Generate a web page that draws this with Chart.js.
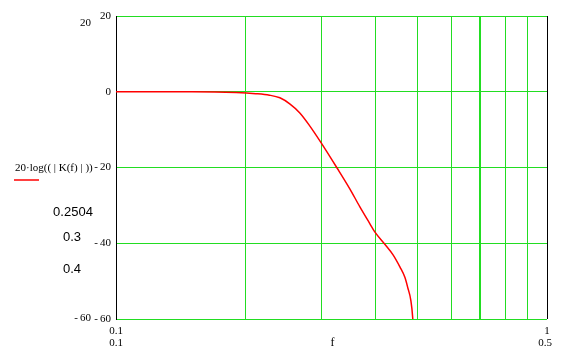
<!DOCTYPE html>
<html>
<head>
<meta charset="utf-8">
<script src="https://cdn.jsdelivr.net/npm/chart.js@4.4.1/dist/chart.umd.min.js"></script>
<style>
  html, body { margin: 0; padding: 0; background: #fff; }
  #wrap { width: 568px; height: 349px; position: relative; }
</style>
</head>
<body>
<div id="wrap"><canvas id="plot"></canvas></div>
<script>
// frequency f and response 20*log(|K(f)|)
const freq = [0.1, 0.15, 0.19, 0.211, 0.227, 0.240, 0.253, 0.267, 0.2815, 0.2985, 0.3252,
              0.349, 0.368, 0.388, 0.3985, 0.420, 0.439, 0.456, 0.468, 0.4755, 0.483, 0.488, 0.490];
const gainDb = [0, 0, -0.2, -0.5, -0.9, -1.6, -3.2, -5.6, -9.0, -13.3, -20.0,
                -25.7, -30.4, -34.8, -37.0, -40.2, -43.0, -46.3, -49.0, -51.8, -55, -59.7, -64];

const xTicks = [0.1, 0.2, 0.3, 0.4, 0.5, 0.6, 0.7, 0.8, 0.9, 1];
const yTicks = [20, 0, -20, -40, -60];
const markerValues = ['0.2504', '0.3', '0.4'];

const GREEN = '#22dd22';
const SERIF = '"Liberation Serif", "Times New Roman", serif';
const SANS = '"Liberation Sans", Arial, sans-serif';

const labelsPlugin = {
    id: 'mathcadLabels',
    afterDraw(chart) {
        const ctx = chart.ctx;
        const area = chart.chartArea;
        const xs = chart.scales.x;
        const ys = chart.scales.y;
        ctx.save();
        ctx.fillStyle = '#000';
        ctx.font = '11px ' + SERIF;
        ctx.textBaseline = 'middle';

        // y tick labels
        ctx.textAlign = 'right';
        yTicks.forEach(v => {
            ctx.fillText(String(v).replace('-', '-\u2009'), area.left - 5, ys.getPixelForValue(v));
        });
        // y axis limits
        ctx.fillText('20', 91, 23);
        ctx.fillText('-\u200960', 91, 318);

        // x axis limits
        ctx.textAlign = 'center';
        ctx.fillText('0.1', xs.getPixelForValue(0.1), 331);
        ctx.fillText('0.1', xs.getPixelForValue(0.1), 343);
        ctx.fillText('1', xs.getPixelForValue(1), 331);
        ctx.fillText('0.5', xs.getPixelForValue(1) - 2, 343);
        ctx.font = '12px ' + SERIF;
        ctx.fillText('f', (area.left + area.right) / 2 + 1, 343);

        // trace legend
        ctx.textAlign = 'left';
        ctx.font = '11px ' + SERIF;
        ctx.fillText('20\u00b7log(( | K(f) | ))', 15, 168);
        ctx.strokeStyle = '#ff0000';
        ctx.lineWidth = 1.5;
        ctx.beginPath();
        ctx.moveTo(14, 180);
        ctx.lineTo(39, 180);
        ctx.stroke();

        // marker values
        ctx.textAlign = 'center';
        ctx.font = '13px ' + SANS;
        ctx.fillText(markerValues[0], 73, 212);
        ctx.fillText(markerValues[1], 72, 237);
        ctx.fillText(markerValues[2], 72, 269);
        ctx.restore();
    }
};

new Chart(document.getElementById('plot'), {
    type: 'scatter',
    data: {
        datasets: [{
            data: freq.map((f, i) => ({ x: f, y: gainDb[i] })),
            showLine: true,
            borderColor: '#ff0000',
            borderWidth: 1.5,
            pointRadius: 0,
            cubicInterpolationMode: 'monotone',
            clip: { left: 0, top: 0, right: 0, bottom: 0 }
        }]
    },
    options: {
        responsive: true,
        maintainAspectRatio: false,
        animation: false,
        layout: { padding: { left: 116, top: 16, right: 21, bottom: 30 } },
        plugins: { legend: { display: false }, tooltip: { enabled: false } },
        scales: {
            x: {
                type: 'logarithmic',
                min: 0.1,
                max: 1,
                afterBuildTicks: scale => { scale.ticks = xTicks.map(v => ({ value: v })); },
                ticks: { display: false },
                border: { display: false },
                grid: {
                    drawTicks: false,
                    color: c => (c.tick && (c.tick.value === 1 || c.tick.value === 0.1)) ? '#000' : GREEN,
                    lineWidth: c => (c.tick && c.tick.value === 0.7) ? 2 : 1
                }
            },
            y: {
                min: -60,
                max: 20,
                afterBuildTicks: scale => { scale.ticks = yTicks.map(v => ({ value: v })); },
                ticks: { display: false },
                border: { display: true, color: '#000', width: 1 },
                grid: { drawTicks: false, color: GREEN, lineWidth: 1 }
            }
        }
    },
    plugins: [labelsPlugin]
});
</script>
</body>
</html>
